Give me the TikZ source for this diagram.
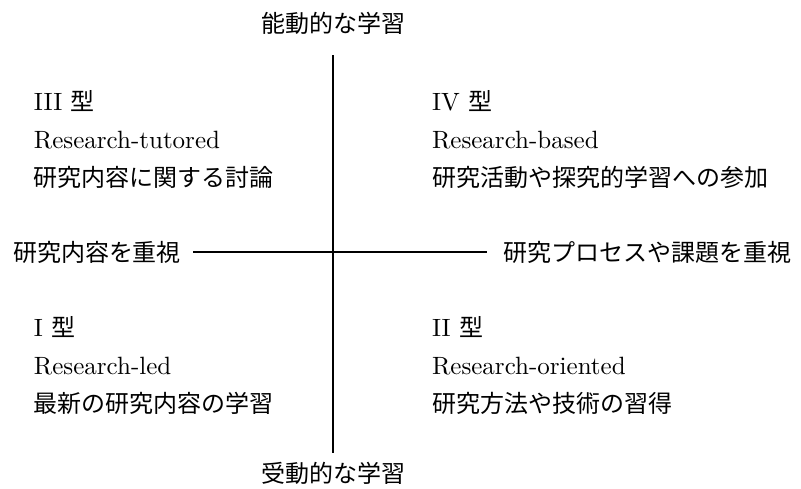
\documentclass[tikz,border=0pt]{standalone}
\usepackage{fontspec}
\newfontfamily\jp{Noto Sans CJK JP}
\newfontfamily\lat{lmroman10-regular.otf}
\begin{document}
\begin{tikzpicture}[x=1pt,y=-1pt,
  lbl/.style={inner sep=0pt,outer sep=0pt,font=\fontsize{24pt}{28pt}\selectfont\jp},
  lat/.style={inner sep=0pt,outer sep=0pt,font=\fontsize{25pt}{29pt}\selectfont\lat},
  axis/.style={line width=1.6pt,black}]
\useasboundingbox[fill=white] (0,0) rectangle (801,488);
% axis end points
\coordinate (vt) at (333,55);
\coordinate (vb) at (333,453);
\coordinate (hl) at (193,252);
\coordinate (hr) at (487,252);
\draw[axis] (vt) -- (vb);
\draw[axis,line width=1.4pt] (hl) -- (hr);
% axis labels
\node[lbl,anchor=base] (top) at (333,32) {能動的な学習};
\node[lbl,anchor=base] (bot) at (333,482) {受動的な学習};
\node[lbl,anchor=base east] (left) at (181,261) {研究内容を重視};
\node[lbl,anchor=base west] (right) at (503,261) {研究プロセスや課題を重視};
% quadrant III
\node[lat,anchor=base west] (t3a) at (34,110) {III {\jp\fontsize{24pt}{28pt}\selectfont 型}};
\node[lat,anchor=base west] (t3b) at (34,148) {Research-tutored};
\node[lbl,anchor=base west] (t3c) at (34,186) {研究内容に関する討論};
% quadrant IV
\node[lat,anchor=base west] (t4a) at (432,110) {IV {\jp\fontsize{24pt}{28pt}\selectfont 型}};
\node[lat,anchor=base west] (t4b) at (432,148) {Research-based};
\node[lbl,anchor=base west] (t4c) at (432,186) {研究活動や探究的学習への参加};
% quadrant I
\node[lat,anchor=base west] (t1a) at (34,336) {I {\jp\fontsize{24pt}{28pt}\selectfont 型}};
\node[lat,anchor=base west] (t1b) at (34,374) {Research-led};
\node[lbl,anchor=base west] (t1c) at (34,412) {最新の研究内容の学習};
% quadrant II
\node[lat,anchor=base west] (t2a) at (432,336) {II {\jp\fontsize{24pt}{28pt}\selectfont 型}};
\node[lat,anchor=base west] (t2b) at (432,374) {Research-oriented};
\node[lbl,anchor=base west] (t2c) at (432,412) {研究方法や技術の習得};
\end{tikzpicture}
\end{document}
